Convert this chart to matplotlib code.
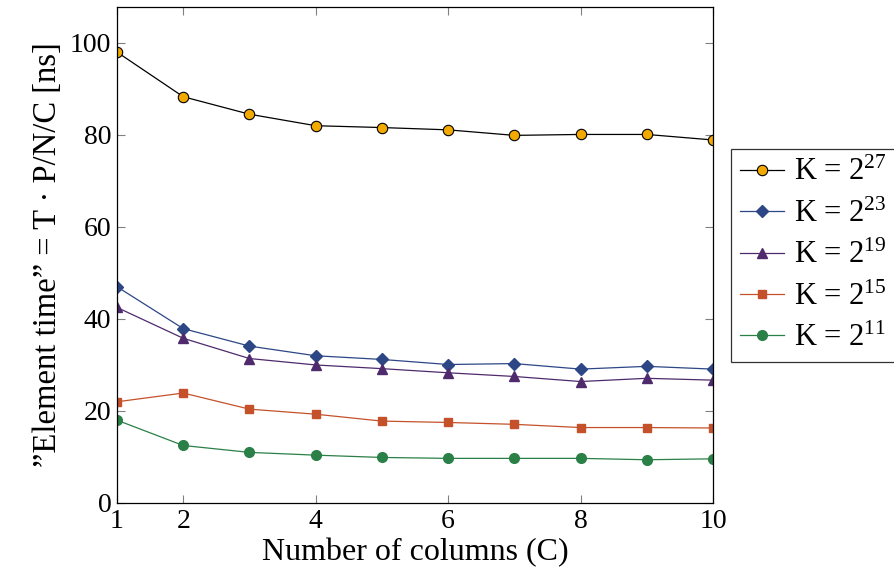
import matplotlib
matplotlib.use("Agg")
import matplotlib.pyplot as plt

plt.rcParams['font.family'] = ['Liberation Serif', 'DejaVu Serif']
plt.rcParams['mathtext.fontset'] = 'custom'
plt.rcParams['mathtext.rm'] = 'Liberation Serif'
plt.rcParams['mathtext.it'] = 'Liberation Serif:italic'

columns = [1, 2, 3, 4, 5, 6, 7, 8, 9, 10]
k27 = [98.0, 88.3, 84.5, 82.0, 81.6, 81.1, 79.9, 80.1, 80.1, 78.9]
k23 = [47.0, 37.9, 34.1, 32.0, 31.2, 30.1, 30.3, 29.1, 29.7, 29.1]
k19 = [42.5, 35.8, 31.4, 30.0, 29.2, 28.3, 27.5, 26.4, 27.1, 26.7]
k15 = [22.0, 23.9, 20.4, 19.3, 17.8, 17.5, 17.1, 16.4, 16.4, 16.3]
k11 = [18.0, 12.5, 11.0, 10.4, 9.9, 9.7, 9.7, 9.7, 9.4, 9.6]
labels = ['K = $2^{27}$', 'K = $2^{23}$', 'K = $2^{19}$', 'K = $2^{15}$', 'K = $2^{11}$']
xticks = [1, 2, 4, 6, 8, 10]
yticks = [0, 20, 40, 60, 80, 100]

fig = plt.figure(figsize=(8.95, 5.86), dpi=100)
ax = fig.add_axes([117 / 895, 1 - 503 / 586, 596 / 895, 496 / 586])

ax.plot(columns, k27, color='black', lw=0.9, marker='o', ms=7.5,
        mfc='#f2a900', mec='black', mew=0.8, label=labels[0])
ax.plot(columns, k23, color='#2d4686', lw=0.9, marker='D', ms=6,
        mfc='#2d4686', mec='#2d4686', label=labels[1])
ax.plot(columns, k19, color='#4f2a6c', lw=0.9, marker='^', ms=7.5,
        mfc='#4f2a6c', mec='#4f2a6c', label=labels[2])
ax.plot(columns, k15, color='#c5512b', lw=0.9, marker='s', ms=6,
        mfc='#c5512b', mec='#c5512b', label=labels[3])
ax.plot(columns, k11, color='#2a8047', lw=0.9, marker='o', ms=7,
        mfc='#2a8047', mec='#2a8047', label=labels[4])

ax.set_xlim(1, 10)
ax.set_ylim(0, 107.8)
ax.set_xticks(xticks)
ax.set_yticks(yticks)
ax.tick_params(direction='in', top=True, right=True, length=6, width=0.8,
               color='#808080', labelsize=20, pad=4)
for s in ax.spines.values():
    s.set_linewidth(0.9)

ax.set_xlabel('Number of columns (C)', fontsize=23, labelpad=3)
ax.set_ylabel('\u201dElement time\u201d = T \u00b7 P/N/C [ns]', fontsize=23.5, labelpad=5)

leg = ax.legend(loc='upper left', bbox_to_anchor=(731 / 895, 1 - 149 / 586),
                bbox_transform=fig.transFigure, borderaxespad=0, fontsize=22,
                frameon=True, fancybox=False, edgecolor='black', handlelength=1.45,
                handletextpad=0.3, borderpad=0.3, labelspacing=0.4)
leg.get_frame().set_linewidth(0.9)

fig.savefig('out.png', dpi=100)
